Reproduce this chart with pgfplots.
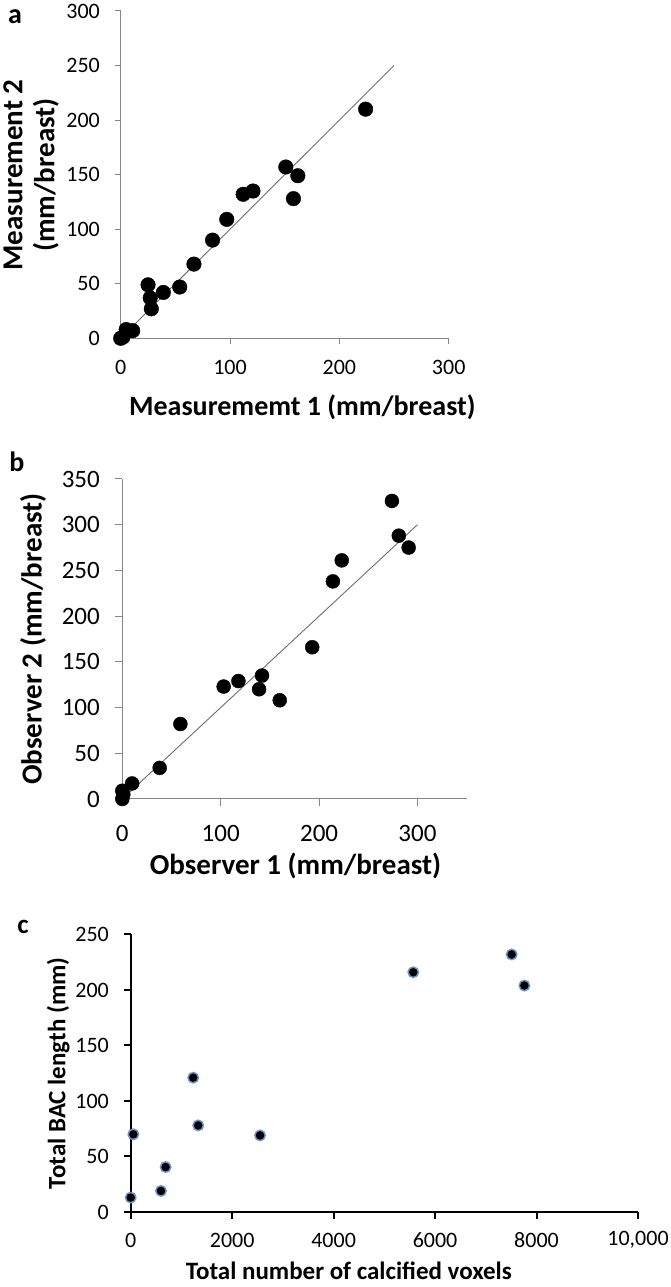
\documentclass[border=0pt]{standalone}
\usepackage{fontspec}
\setmainfont{Carlito}
\usepackage{pgfplots}
\pgfplotsset{compat=1.18}
\definecolor{axgray}{RGB}{134,134,134}
\definecolor{fitgray}{RGB}{110,110,110}
\definecolor{edgeblue}{RGB}{79,129,189}
\begin{document}
\begin{tikzpicture}[x=1pt,y=1pt]
\useasboundingbox (0,0) rectangle (670,1287);
% ---------------- panel a ----------------
\begin{axis}[
  at={(120.7pt,948.7pt)}, anchor=south west,
  scale only axis, width=328pt, height=327.3pt,
  xmin=0, xmax=300, ymin=0, ymax=300,
  axis x line=bottom, axis y line=left,
  axis line style={axgray, line width=1pt, -},
  tick style={axgray, line width=1pt},
  tick align=outside, major tick length=6pt,
  xtick={0,100,200,300}, ytick={0,50,...,300},
  /pgf/number format/assume math mode=true,
  tick label style={font=\fontsize{22}{26}\selectfont, black},
  xticklabel style={anchor=center, inner sep=0pt, yshift=-22.7pt},
  yticklabel style={anchor=east, inner sep=0pt, xshift=-14.7pt},
  clip=false,
  xlabel={\textbf{Measurememt 1 (mm/breast)}},
  ylabel={\textbf{Measurement 2}\\\textbf{(mm/breast)}},
  xlabel style={at={(axis description cs:0.554,-0.21)}, anchor=center, font=\fontsize{28}{32}\selectfont, inner sep=0pt},
  ylabel style={at={(axis description cs:-0.273,0.499)}, anchor=center, rotate=0, align=center, font=\fontsize{29}{32}\selectfont, inner sep=0pt},
]
\addplot[fitgray, line width=0.9pt, no marks] coordinates {(0,0) (250,250)};
\addplot[only marks, mark=*, mark size=7.3pt, mark options={fill=black, draw=black}] coordinates {
(0,0) (2,1) (5,8) (11,7) (25,49) (27,37) (28,27) (39,42) (54,47) (67,68)
(84,90) (97,109) (112,132) (121,135) (151,157) (162,149) (158,128) (224,210)};
\end{axis}
% ---------------- panel b ----------------
\begin{axis}[
  at={(122.3pt,488pt)}, anchor=south west,
  scale only axis, width=344.4pt, height=320pt,
  xmin=0, xmax=350, ymin=0, ymax=350,
  axis x line=bottom, axis y line=left,
  axis line style={axgray, line width=1pt, -},
  tick style={axgray, line width=1pt},
  tick align=outside, major tick length=7pt,
  xtick={0,100,200,300}, ytick={0,50,...,350},
  /pgf/number format/assume math mode=true,
  tick label style={font=\fontsize{25}{29}\selectfont, black},
  xticklabel style={anchor=center, inner sep=0pt, yshift=-27pt},
  yticklabel style={anchor=east, inner sep=0pt, xshift=-15.3pt},
  clip=false,
  xlabel={\textbf{Observer 1 (mm/breast)}},
  ylabel={\textbf{Observer 2 (mm/breast)}},
  xlabel style={at={(axis description cs:0.503,-0.209)}, anchor=center, font=\fontsize{29}{32}\selectfont, inner sep=0pt},
  ylabel style={at={(axis description cs:-0.259,0.5)}, anchor=center, font=\fontsize{29}{32}\selectfont, inner sep=0pt},
]
\addplot[fitgray, line width=0.9pt, no marks] coordinates {(0,0) (300,300)};
\addplot[only marks, mark=*, mark size=7pt, mark options={fill=black, draw=black}] coordinates {
(0,0) (1,5) (0,9) (10,17) (38,34) (59,82) (103,123) (118,129) (142,135) (139,120)
(160,108) (193,166) (214,238) (223,261) (274,326) (281,288) (291,275)};
\end{axis}
% ---------------- panel c ----------------
\begin{axis}[
  at={(130.7pt,75pt)}, anchor=south west,
  scale only axis, width=507.3pt, height=277.5pt,
  xmin=0, xmax=10000, ymin=0, ymax=250,
  axis x line=bottom, axis y line=left,
  axis line style={black, line width=2pt, -},
  tick style={black, line width=2pt},
  tick align=outside, major tick length=7pt,
  xtick={0,2000,4000,6000,8000,10000},
  xticklabels={0,2000,4000,6000,8000,{10,000}},
  ytick={0,50,...,250},
  scaled ticks=false,
  /pgf/number format/assume math mode=true,
  tick label style={font=\fontsize{22}{26}\selectfont, black},
  xticklabel style={anchor=center, inner sep=0pt, yshift=-21pt},
  yticklabel style={anchor=east, inner sep=0pt, xshift=-14.7pt},
  clip=false,
  xlabel={\textbf{Total number of calcified voxels}},
  ylabel={\textbf{Total BAC length (mm)}},
  xlabel style={at={(axis description cs:0.430,-0.212)}, anchor=center, font=\fontsize{25}{28}\selectfont, inner sep=0pt},
  ylabel style={at={(axis description cs:-0.143,0.5)}, anchor=center, font=\fontsize{25}{28}\selectfont, inner sep=0pt},
]
\addplot[only marks, mark=*, mark size=5.2pt, mark options={fill=black, draw=edgeblue!85!white, line width=1.5pt}] coordinates {
(0,13) (52,70) (597,19) (688,40.5) (1232,121) (1331,78) (2550,69) (5570,216) (7510,232) (7760,204)};
\end{axis}
% panel letters
\node[font=\fontsize{28}{32}\selectfont\bfseries] at (15,1270) {a};
\node[font=\fontsize{28}{32}\selectfont\bfseries] at (17,825) {b};
\node[font=\fontsize{27}{32}\selectfont\bfseries] at (23,360) {c};
\end{tikzpicture}
\end{document}
